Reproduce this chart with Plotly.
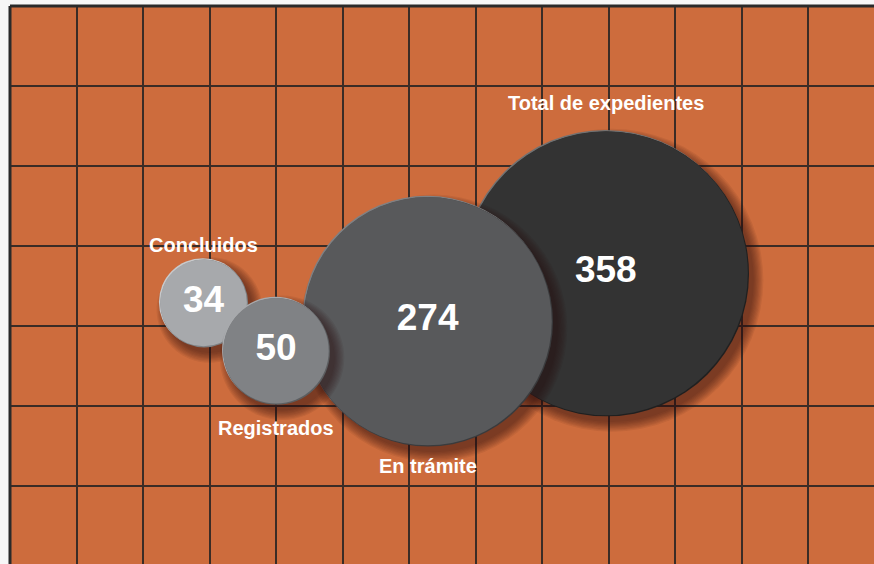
import numpy as np
import plotly.graph_objects as go

# ---- data ----
labels = ["Total de expedientes", "En trámite", "Concluidos", "Registrados"]
values = [358, 274, 34, 50]
# bubble centres in grid-cell units (x: columns, y: rows from top)
x_pos = [8.96, 6.28, 2.91, 4.00]
y_pos = [3.34, 3.94, 3.71, 4.31]
# label anchor rows
label_y = [1.21, 5.75, 2.99, 5.275]

colors = ["#333333", "#58595b", "#a7a9ac", "#808285"]
rim_light = ["#727272", "#808183", "#c8cacc", "#a8aaad"]
rim_dark = ["#202020", "#3a3b3d", "#7e8083", "#5c5e60"]

W, H = 874, 564
ML, MT = 10, 6
cell_w, cell_h = 66.5, 80.0
PX_PER_SQRT = 15.06  # bubble diameter scale (area-proportional)
FONT = "Liberation Sans, Arial, sans-serif"

fig = go.Figure()
diam = PX_PER_SQRT * np.sqrt(np.array(values, dtype=float))

for i in range(len(values)):
    d = float(diam[i])
    # soft drop shadow to lower right
    sx = 6 / cell_w
    sy = 7 / cell_h
    for k in range(9):
        fig.add_trace(go.Scatter(
            x=[x_pos[i] + sx], y=[y_pos[i] + sy], mode="markers",
            marker=dict(size=d + 18 - k * 2.4, color="rgba(40,20,10,0.07)",
                        opacity=1, line=dict(width=0)),
            hoverinfo="skip", showlegend=False))
    # bevel rims
    fig.add_trace(go.Scatter(
        x=[x_pos[i] - 0.7 / cell_w], y=[y_pos[i] - 0.7 / cell_h], mode="markers",
        marker=dict(size=d, color=rim_light[i], opacity=1, line=dict(width=0)),
        hoverinfo="skip", showlegend=False))
    fig.add_trace(go.Scatter(
        x=[x_pos[i] + 0.7 / cell_w], y=[y_pos[i] + 0.7 / cell_h], mode="markers",
        marker=dict(size=d, color=rim_dark[i], opacity=1, line=dict(width=0)),
        hoverinfo="skip", showlegend=False))
    fig.add_trace(go.Scatter(
        x=[x_pos[i]], y=[y_pos[i]], mode="markers+text",
        marker=dict(size=d - 1, color=colors[i], opacity=1, line=dict(width=0)),
        text=["<b>%d</b>" % values[i]], textposition="middle center",
        textfont=dict(family=FONT, size=37, color="white"),
        hoverinfo="skip", showlegend=False))

for i in range(len(labels)):
    fig.add_annotation(x=x_pos[i], y=label_y[i], text="<b>%s</b>" % labels[i],
                       showarrow=False, xanchor="center", yanchor="middle",
                       font=dict(family=FONT, size=20, color="white"))

xmax = (W - ML) / cell_w
ymax = (H - MT) / cell_h
fig.update_xaxes(range=[0, xmax], dtick=1, tick0=0, showgrid=True,
                 gridcolor="#3a2c26", gridwidth=2, zeroline=False,
                 showticklabels=False, ticks="", fixedrange=True)
fig.update_yaxes(range=[ymax, 0], dtick=1, tick0=0, showgrid=True,
                 gridcolor="#3a2c26", gridwidth=2, zeroline=False,
                 showticklabels=False, ticks="", fixedrange=True)

fig.add_shape(type="line", xref="paper", yref="paper", x0=0, x1=0, y0=0, y1=1,
              line=dict(color="#2a2a2a", width=3))
fig.add_shape(type="line", xref="paper", yref="paper", x0=0, x1=1, y0=1, y1=1,
              line=dict(color="#2a2a2a", width=3))

fig.update_layout(width=W, height=H, margin=dict(l=ML, r=0, t=MT, b=0),
                  paper_bgcolor="#f7f7f7", plot_bgcolor="#cd6c3d",
                  showlegend=False)
fig.write_html("out.html", config={"displayModeBar": False},
               post_script="document.body.style.margin='0';document.body.style.overflow='hidden';")
